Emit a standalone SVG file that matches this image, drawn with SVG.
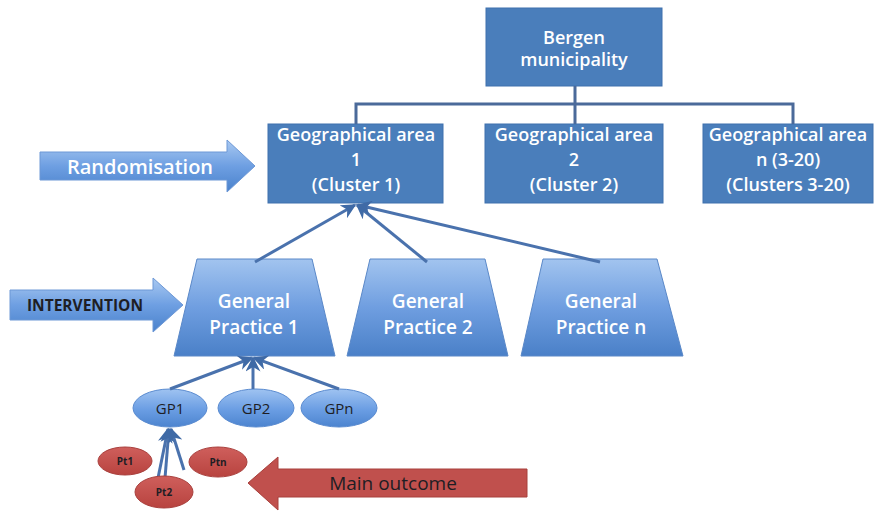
<svg xmlns="http://www.w3.org/2000/svg" width="879" height="512" viewBox="0 0 879 512">
  <defs>
    <linearGradient id="trapFill" x1="0" y1="0" x2="0" y2="1">
      <stop offset="0" stop-color="#a2c4ef"/>
      <stop offset="0.5" stop-color="#6f9ee0"/>
      <stop offset="1" stop-color="#4a80c8"/>
    </linearGradient>
    <linearGradient id="ellFill" x1="0" y1="0" x2="0" y2="1">
      <stop offset="0" stop-color="#9fc3f1"/>
      <stop offset="0.55" stop-color="#6a9de3"/>
      <stop offset="1" stop-color="#4c84cf"/>
    </linearGradient>
    <linearGradient id="arrowFill" x1="0" y1="0" x2="0" y2="1">
      <stop offset="0" stop-color="#a9c9f1"/>
      <stop offset="0.5" stop-color="#6e9fe2"/>
      <stop offset="1" stop-color="#4a82cc"/>
    </linearGradient>
    <linearGradient id="redFill" x1="0" y1="0" x2="0" y2="1">
      <stop offset="0" stop-color="#cf5f5c"/>
      <stop offset="1" stop-color="#b8433f"/>
    </linearGradient>
    <marker id="head" viewBox="0 0 10 10" refX="9" refY="5" markerWidth="5" markerHeight="5" orient="auto-start-reverse" markerUnits="strokeWidth">
      <path d="M0,0 L10,5 L0,10 L3,5 z" fill="#3f6aa6"/>
    </marker>
  </defs>
  <style>
    .box { fill: #4a7ebb; stroke: #3f70ad; stroke-width: 1; }
    .trap { fill: url(#trapFill); stroke: #5a88c8; stroke-width: 1; }
    .gp { fill: url(#ellFill); stroke: #5a8bd0; stroke-width: 1; }
    .pt { fill: url(#redFill); stroke: #a9403d; stroke-width: 1; }
    .barrow { fill: url(#arrowFill); stroke: #6d98d6; stroke-width: 1; }
    .rarrow { fill: #c0504d; stroke: #a8403c; stroke-width: 1; }
    .wt { font-family: "Open Sans", "DejaVu Sans", sans-serif; fill: #ffffff; text-anchor: middle; font-weight: 600; }
    .dk { font-family: "Open Sans", "DejaVu Sans", sans-serif; fill: #1e1e24; text-anchor: middle; }
    .conn { stroke: #4a72ad; stroke-width: 3; fill: none; }
    .bus { stroke: #4b6a9a; stroke-width: 3; fill: none; }
  </style>

  <!-- side arrows -->
  <g id="randomisation">
    <polygon class="barrow" points="40,152 227,152 227,140 255,166 227,192 227,180 40,180"/>
    <text class="wt" x="140" y="174" font-size="20">Randomisation</text>
  </g>
  <g id="intervention">
    <polygon class="barrow" points="10,290 153,290 153,278 183,305 153,332 153,320 10,320"/>
    <text class="dk" x="85" y="311" font-size="15.5" font-weight="bold">INTERVENTION</text>
  </g>
  <g id="main-outcome">
    <polygon class="rarrow" points="248,483 278,457 278,469 527,469 527,497 278,497 278,510"/>
    <text class="dk" x="393" y="490" font-size="19">Main outcome</text>
  </g>

  <!-- organisation tree -->
  <g id="bergen">
    <rect class="box" x="486" y="8" width="176" height="78"/>
    <text class="wt" x="574" y="44" font-size="18">Bergen</text>
    <text class="wt" x="574" y="66" font-size="18">municipality</text>
  </g>
  <g id="area-1">
    <rect class="box" x="268" y="124" width="175" height="79"/>
    <text class="wt" x="356" y="141" font-size="18">Geographical area</text>
    <text class="wt" x="356" y="166" font-size="18">1</text>
    <text class="wt" x="356" y="191" font-size="18">(Cluster 1)</text>
  </g>
  <g id="area-2">
    <rect class="box" x="485" y="124" width="178" height="79"/>
    <text class="wt" x="574" y="141" font-size="18">Geographical area</text>
    <text class="wt" x="574" y="166" font-size="18">2</text>
    <text class="wt" x="574" y="191" font-size="18">(Cluster 2)</text>
  </g>
  <g id="area-n">
    <rect class="box" x="703" y="124" width="170" height="79"/>
    <text class="wt" x="788" y="141" font-size="18">Geographical area</text>
    <text class="wt" x="788" y="166" font-size="18">n (3-20)</text>
    <text class="wt" x="788" y="191" font-size="18">(Clusters 3-20)</text>
  </g>

  <g id="practice-1">
    <polygon class="trap" points="197,259 312,259 335,356 174,356"/>
    <text class="wt" x="254" y="308" font-size="19">General</text>
    <text class="wt" x="254" y="334" font-size="19">Practice 1</text>
  </g>
  <g id="practice-2">
    <polygon class="trap" points="370,259 485,259 508,356 347,356"/>
    <text class="wt" x="428" y="308" font-size="19">General</text>
    <text class="wt" x="428" y="334" font-size="19">Practice 2</text>
  </g>
  <g id="practice-n">
    <polygon class="trap" points="543,259 657,259 683,356 521,356"/>
    <text class="wt" x="601" y="308" font-size="19">General</text>
    <text class="wt" x="601" y="334" font-size="19">Practice n</text>
  </g>

  <g id="gp1">
    <ellipse class="gp" cx="170" cy="408" rx="37" ry="19"/>
    <text class="dk" x="170" y="414" font-size="15">GP1</text>
  </g>
  <g id="gp2">
    <ellipse class="gp" cx="256" cy="408" rx="38" ry="19"/>
    <text class="dk" x="256" y="414" font-size="15">GP2</text>
  </g>
  <g id="gpn">
    <ellipse class="gp" cx="339" cy="408" rx="38" ry="19"/>
    <text class="dk" x="339" y="414" font-size="15">GPn</text>
  </g>

  <!-- connectors -->
  <g id="connectors">
    <path class="bus" d="M575,86 L575,124 M356,124 L356,104 L793,104 L793,124"/>
    <line class="conn" x1="255" y1="262" x2="355" y2="205" marker-end="url(#head)"/>
    <line class="conn" x1="427" y1="262" x2="357" y2="205" marker-end="url(#head)"/>
    <line class="conn" x1="600" y1="262" x2="358" y2="205" marker-end="url(#head)"/>
    <line class="conn" x1="170" y1="389" x2="252" y2="358" marker-end="url(#head)"/>
    <line class="conn" x1="253" y1="389" x2="253" y2="358" marker-end="url(#head)"/>
    <line class="conn" x1="339" y1="389" x2="254" y2="358" marker-end="url(#head)"/>
    <line class="conn" x1="158" y1="478" x2="168" y2="429" marker-end="url(#head)"/>
    <line class="conn" x1="165" y1="478" x2="169" y2="429" marker-end="url(#head)"/>
    <line class="conn" x1="184" y1="470" x2="171" y2="429" marker-end="url(#head)"/>
  </g>

  <g id="pt1">
    <ellipse class="pt" cx="125" cy="461" rx="27" ry="14"/>
    <text class="dk" x="125" y="465" font-size="10" font-weight="bold">Pt1</text>
  </g>
  <g id="ptn">
    <ellipse class="pt" cx="218" cy="462" rx="29" ry="15"/>
    <text class="dk" x="218" y="466" font-size="10" font-weight="bold">Ptn</text>
  </g>
  <g id="pt2">
    <ellipse class="pt" cx="164" cy="492" rx="29" ry="16"/>
    <text class="dk" x="164" y="496" font-size="10" font-weight="bold">Pt2</text>
  </g>
</svg>
